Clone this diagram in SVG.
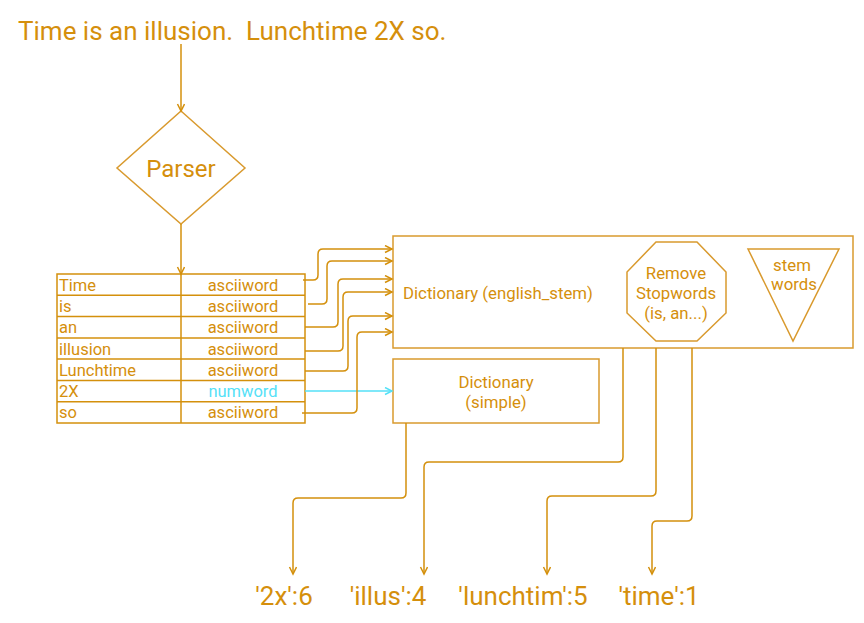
<svg xmlns="http://www.w3.org/2000/svg" width="864" height="623" viewBox="0 0 864 623">
<defs>
<style>
text{font-family:Roboto,"Liberation Sans",sans-serif;fill:#d58f0c}
.shape{fill:none;stroke:#d99a2e;stroke-width:1.5}
.cell{fill:none;stroke:#d4900c;stroke-width:1.5}
.conn{fill:none;stroke:#d4900c;stroke-width:1.5}
.cyan{fill:none;stroke:#55e1f7;stroke-width:1.5}
.t16{font-size:16.5px}
.t17{font-size:16.8px}
.mid{text-anchor:middle}
</style>
<marker id="arr" markerWidth="10" markerHeight="10" refX="8" refY="4" orient="auto" markerUnits="userSpaceOnUse">
<path d="M1,0.5 L8,4 L1,7.5" fill="none" stroke="#d4900c" stroke-width="1.5"/>
</marker>
<marker id="arrc" markerWidth="10" markerHeight="10" refX="8" refY="4" orient="auto" markerUnits="userSpaceOnUse">
<path d="M1,0.5 L8,4 L1,7.5" fill="none" stroke="#55e1f7" stroke-width="1.5"/>
</marker>
</defs>
<rect width="864" height="623" fill="#ffffff"/>

<g id="input">
<text x="18" y="40" font-size="26" style="white-space:pre" xml:space="preserve">Time is an illusion.  Lunchtime 2X so.</text>
</g>

<g id="parser">
<polygon class="shape" points="181,111 245,168 181,224 117,168"/>
<text x="181" y="177" font-size="24" class="mid">Parser</text>
</g>

<g id="tokens">
<rect class="cell" x="57" y="274" width="248" height="149"/>
<line class="cell" x1="181" y1="274" x2="181" y2="423"/>
<line class="cell" x1="57" y1="295.3" x2="305" y2="295.3"/>
<line class="cell" x1="57" y1="316.6" x2="305" y2="316.6"/>
<line class="cell" x1="57" y1="337.9" x2="305" y2="337.9"/>
<line class="cell" x1="57" y1="359.1" x2="305" y2="359.1"/>
<line class="cell" x1="57" y1="380.4" x2="305" y2="380.4"/>
<line class="cell" x1="57" y1="401.7" x2="305" y2="401.7"/>
<g class="t16">
<text x="59" y="291">Time</text>
<text x="59" y="312">is</text>
<text x="59" y="333">an</text>
<text x="59" y="355">illusion</text>
<text x="59" y="376">Lunchtime</text>
<text x="59" y="397">2X</text>
<text x="59" y="418">so</text>
<text x="243" y="291" class="mid">asciiword</text>
<text x="243" y="312" class="mid">asciiword</text>
<text x="243" y="333" class="mid">asciiword</text>
<text x="243" y="355" class="mid">asciiword</text>
<text x="243" y="376" class="mid">asciiword</text>
<text x="243" y="397" class="mid" style="fill:#55e1f7">numword</text>
<text x="243" y="418" class="mid">asciiword</text>
</g>
</g>

<g id="dict_english">
<rect class="shape" x="393" y="236" width="460" height="112"/>
<text x="403" y="299" class="t17">Dictionary (english_stem)</text>
</g>

<g id="stopwords">
<polygon class="shape" points="656,242 697,242 726,272 726,313 697,341 656,341 627,313 627,272"/>
<text x="676" y="279" class="t17 mid">Remove</text>
<text x="676" y="299" class="t17 mid">Stopwords</text>
<text x="676" y="319" class="t17 mid">(is, an...)</text>
</g>

<g id="stem">
<polygon class="shape" points="748,249 839,249 793,341"/>
<text x="792" y="271" class="t17 mid">stem</text>
<text x="794" y="290" class="t17 mid">words</text>
</g>

<g id="dict_simple">
<rect class="shape" x="393" y="359" width="206" height="64"/>
<text x="496" y="388" class="t17 mid">Dictionary</text>
<text x="496" y="408" class="t17 mid">(simple)</text>
</g>

<g id="outputs">
<text x="284" y="605" font-size="26" class="mid">'2x':6</text>
<text x="388" y="605" font-size="26" class="mid">'illus':4</text>
<text x="523" y="605" font-size="26" class="mid">'lunchtim':5</text>
<text x="659" y="605" font-size="26" class="mid">'time':1</text>
</g>

<g id="connectors">
<path class="conn" marker-end="url(#arr)" d="M181,44 V111"/>
<path class="conn" marker-end="url(#arr)" d="M181,224 V274"/>
<path class="conn" marker-end="url(#arr)" d="M303,280 H313 Q318,280 318,275 V254 Q318,249 323,249 H392"/>
<path class="conn" marker-end="url(#arr)" d="M308,304 H322 Q327,304 327,299 V266 Q327,261 332,261 H392"/>
<path class="conn" marker-end="url(#arr)" d="M305,327 H333 Q338,327 338,322 V284 Q338,279 343,279 H392"/>
<path class="conn" marker-end="url(#arr)" d="M305,351 H338 Q343,351 343,346 V297 Q343,292 348,292 H392"/>
<path class="conn" marker-end="url(#arr)" d="M305,371 H343 Q348,371 348,366 V321 Q348,316 353,316 H392"/>
<path class="cyan" marker-end="url(#arrc)" d="M305,391 H392"/>
<path class="conn" marker-end="url(#arr)" d="M302,413 H352 Q357,413 357,408 V337 Q357,332 362,332 H392"/>
<path class="conn" marker-end="url(#arr)" d="M406,423 V493 Q406,498 401,498 H298 Q293,498 293,503 V574"/>
<path class="conn" marker-end="url(#arr)" d="M623,348 V457 Q623,462 618,462 H429 Q424,462 424,467 V574"/>
<path class="conn" marker-end="url(#arr)" d="M656,348 V491 Q656,496 651,496 H552 Q547,496 547,501 V574"/>
<path class="conn" marker-end="url(#arr)" d="M692,348 V516 Q692,521 687,521 H657 Q652,521 652,526 V574"/>
</g>
</svg>
